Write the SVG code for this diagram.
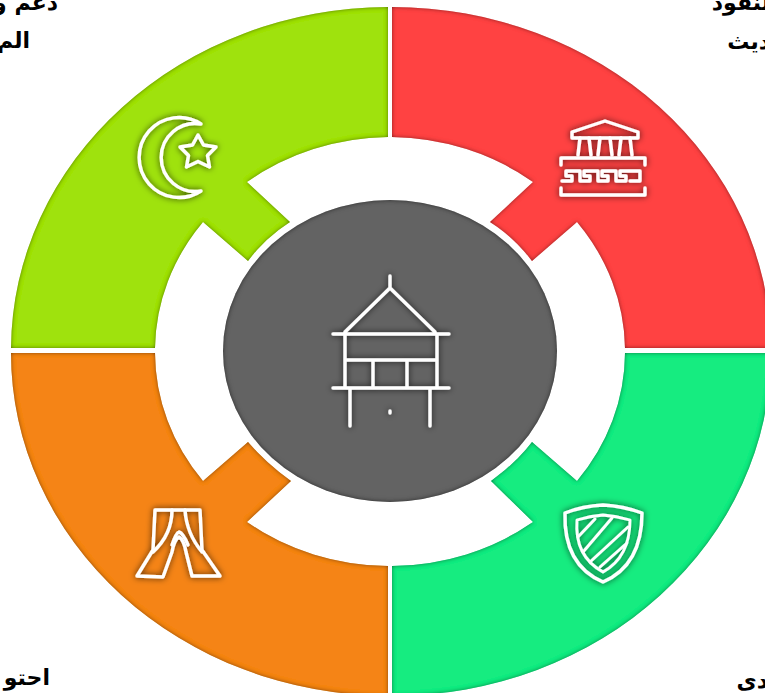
<svg xmlns="http://www.w3.org/2000/svg" width="765" height="693" viewBox="0 0 765 693">
<style>
.ic{fill:none;stroke:#fff;stroke-width:3.4;stroke-linecap:round;stroke-linejoin:round}
.lb{font-family:"DejaVu Sans","Noto Sans",sans-serif;font-weight:700;font-size:22px;fill:#000;direction:rtl}
</style>
<defs>
<filter id="bevel" x="-5%" y="-5%" width="110%" height="110%">
<feComponentTransfer in="SourceAlpha" result="inv"><feFuncA type="table" tableValues="1 0"/></feComponentTransfer>
<feGaussianBlur in="inv" stdDeviation="2.2" result="b"/>
<feFlood flood-color="#000" flood-opacity=".9"/>
<feComposite in2="b" operator="in"/>
<feComposite in2="SourceAlpha" operator="in" result="sh"/>
<feMerge><feMergeNode in="SourceGraphic"/><feMergeNode in="sh"/></feMerge>
</filter>
<filter id="disc" x="-5%" y="-5%" width="110%" height="110%">
<feComponentTransfer in="SourceAlpha" result="inv"><feFuncA type="table" tableValues="1 0"/></feComponentTransfer>
<feGaussianBlur in="inv" stdDeviation="2.6" result="b"/>
<feFlood flood-color="#000" flood-opacity="1"/>
<feComposite in2="b" operator="in"/>
<feComposite in2="SourceAlpha" operator="in" result="sh"/>
<feMerge><feMergeNode in="SourceGraphic"/><feMergeNode in="sh"/></feMerge>
</filter>
<filter id="glow" x="-30%" y="-30%" width="160%" height="160%">
<feGaussianBlur in="SourceAlpha" stdDeviation="3" result="b"/>
<feFlood flood-color="#000" flood-opacity=".75"/>
<feComposite in2="b" operator="in" result="s"/>
<feMerge><feMergeNode in="s"/><feMergeNode in="SourceGraphic"/></feMerge>
</filter>
</defs>
<rect width="765" height="693" fill="#fff"/>

<g id="node-red">
<path filter="url(#bevel)" fill="#FF4343" d="M392,7 A379,343 0 0 1 771,348 H625 A235,213 0 0 0 577,222 L532,261 Q515,238 490,222 L533,182 A235,213 0 0 0 392,137 Z"/>
<g class="ic" filter="url(#glow)">
<path d="M605,121 L572,132 V138 H638 V132 Z"/>
<path d="M580,138 L578,155 M589,138 L591,155 M600,138 L598,155 M610,138 L612,155 M621,138 L619,155 M630,138 L632,155"/>
<path d="M561,165 V158 H645 V165"/>
<path d="M562,181 H572 V176 H566 V171 H580 V181 H590 V176 H584 V171 H598 V181 H608 V176 H602 V171 H616 V181 H626 V176 H620 V171 H640 V181 H630"/>
<path d="M561,188 V195 H645 V188"/>
</g>
</g>

<g id="node-lime">
<path filter="url(#bevel)" fill="#9FE20D" d="M388,7 A379,343 0 0 0 11,348 H155 A235,213 0 0 1 203,222 L248,261 Q265,238 290,222 L247,182 A235,213 0 0 1 388,137 Z"/>
<g class="ic" filter="url(#glow)">
<path d="M201,124 A40,40 0 1 0 201,191 A34,34 0 1 1 201,124 Z"/>
<path d="M198,135 L203.500,145 L216,147 L207.500,155.500 L209.500,167 L198,161.500 L186.500,167 L188.500,155.500 L180,147 L192.500,145 Z"/>
</g>
</g>

<g id="node-orange">
<path filter="url(#bevel)" fill="#F58415" d="M388,696 V566 A235,213 0 0 1 247,522 L291,481 Q266,463 248,442 L203,481 A235,213 0 0 1 155,353 H11 A379,343 0 0 0 388,696 Z"/>
<g class="ic" filter="url(#glow)">
<path d="M155,510 H200 L202,550 L220,576 H192 L186,552 Q184,540 179,537 Q174,540 172,552 L163,577 L137,576 L153,550 Z"/>
<path d="M172,510 C172,525 166,540 153,552 M185,510 C186,525 192,540 202,552 M172,545 Q176,533 179,532 Q183,533 188,545"/>
</g>
</g>

<g id="node-green">
<path filter="url(#bevel)" fill="#14EC80" d="M392,696 V566 A235,213 0 0 0 533,522 L491,481 Q516,463 532,442 L577,481 A235,213 0 0 0 625,353 H771 A379,343 0 0 1 392,696 Z"/>
<g class="ic" filter="url(#glow)">
<path d="M603,505 Q583,506 565,513 C564,545 575,570 603,582 C631,570 642,545 642,513 Q623,506 603,505 Z"/>
<path stroke-width="2.800" d="M603,515 Q590,516 577,520 C575,545 585,562 603,572 C621,562 630,545 630,520 Q616,516 603,515 Z"/>
<path stroke-width="2.800" d="M578,537 L595,519 M583,552 L612,518 M590,562 L628,527 M600,567 L627,543"/>
</g>
</g>

<g id="node-center">
<ellipse filter="url(#disc)" cx="390" cy="351" rx="167" ry="151" fill="#636363"/>
<g class="ic" filter="url(#glow)">
<path d="M390,276 V288 M345,332 L390,288 L435,332 M333,334 H449 M345,334 V387 M437,334 V387 M345,360 H437 M373,360 V387 M407,360 V387 M333,388 H449 M350,388 V426 M430,388 V426"/>
<path d="M390,411 V413"/>
</g>
</g>

<g id="labels">
<text class="lb" x="58" y="10">دعم و</text>
<text class="lb" x="30" y="48">الم</text>
<text class="lb" x="770" y="10">لنقود</text>
<text class="lb" x="770" y="49">ديث</text>
<text class="lb" x="50" y="685">احتو</text>
<text class="lb" x="768" y="688">دى</text>
</g>
</svg>
